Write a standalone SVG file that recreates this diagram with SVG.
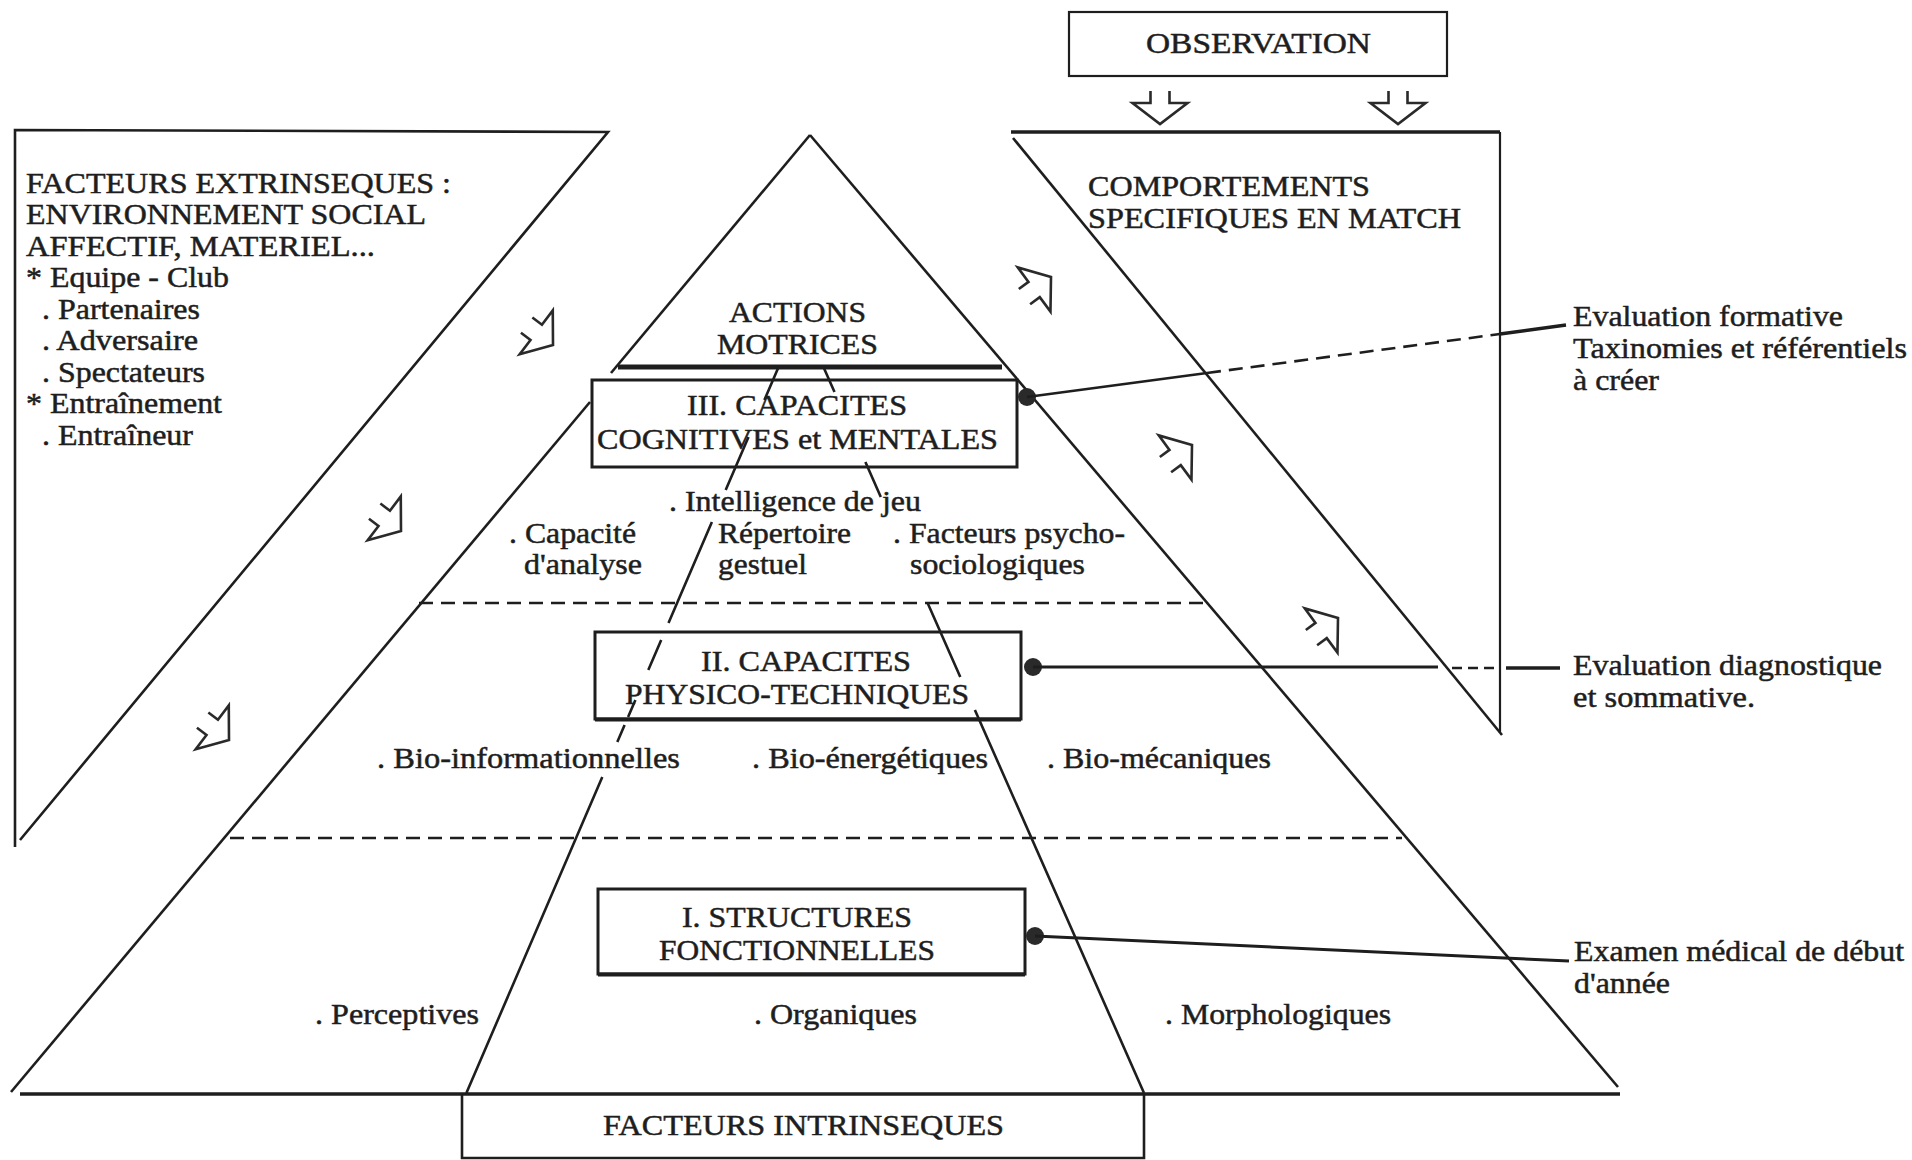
<svg xmlns="http://www.w3.org/2000/svg" width="1912" height="1160" viewBox="0 0 1912 1160">
<style>
  .ln{fill:none;stroke:#1e1e1e;stroke-width:2.6;stroke-linecap:butt;stroke-linejoin:miter}
  .bold{stroke-width:3.4}
  .heavy{stroke-width:5}
  .dash{fill:none;stroke:#1e1e1e;stroke-width:2.6;stroke-dasharray:14 8}
  .box{fill:none;stroke:#1e1e1e;stroke-width:3}
  .dot{fill:#2a2a2a}
  .arr{fill:none;stroke:#2a2a2a;stroke-width:2.6;stroke-linejoin:miter}
  text{font-family:"Liberation Serif","Times New Roman",serif;font-size:30px;fill:#1e1e1e;stroke:#1e1e1e;stroke-width:0.5}
</style>
<defs>
  <!-- hollow double-stem arrow, tip at origin, pointing down -->
  <path id="hollow-arrow" class="arr" d="M-9.5,-33 V-21 H-27.5 L0,0 L27.5,-21 H9.5 V-33"/>
</defs>
<rect width="1912" height="1160" fill="#fff"/>

<!-- extrinsic factors band -->
<g id="extrinsic-factors">
  <path class="ln" d="M15,847 V130 L608,132 L20,840"/>
  <text x="26" y="193" textLength="425" lengthAdjust="spacingAndGlyphs">FACTEURS EXTRINSEQUES :</text>
  <text x="26" y="224" textLength="400" lengthAdjust="spacingAndGlyphs">ENVIRONNEMENT SOCIAL</text>
  <text x="26" y="256" textLength="349" lengthAdjust="spacingAndGlyphs">AFFECTIF, MATERIEL...</text>
  <text x="26" y="287" textLength="203" lengthAdjust="spacingAndGlyphs">* Equipe - Club</text>
  <text x="42" y="319" textLength="158" lengthAdjust="spacingAndGlyphs">. Partenaires</text>
  <text x="42" y="350" textLength="156" lengthAdjust="spacingAndGlyphs">. Adversaire</text>
  <text x="42" y="382" textLength="163" lengthAdjust="spacingAndGlyphs">. Spectateurs</text>
  <text x="26" y="413" textLength="196" lengthAdjust="spacingAndGlyphs">* Entraînement</text>
  <text x="42" y="445" textLength="151" lengthAdjust="spacingAndGlyphs">. Entraîneur</text>
</g>

<!-- pyramid outline, levels and inner guide lines -->
<g id="pyramid">
  <path class="ln" d="M810,135 L611,373"/>
  <path class="ln" d="M590,402 L11,1092"/>
  <path class="ln" d="M810,135 L1618,1087"/>
  <path class="ln bold" d="M20,1094 H1620"/>
  <path class="dash" d="M419,603 H1203"/>
  <path class="dash" d="M230,838 H1402"/>
  <!-- left inner line, broken around labels -->
  <path class="ln" d="M779,366 L764.4,400 M748.5,437 L725.7,490 M711.9,522 L668.5,623 M661.2,640 L648.3,670 M635.4,700 L628.1,717 M624.6,725 L617.3,742 M602.3,777 L466.4,1093"/>
  <!-- right inner line, broken around labels -->
  <path class="ln" d="M823,366 L834.5,392 M865.4,462 L880.8,497 M927.6,603 L960.3,677 M974.9,710 L1144,1093"/>
  <text x="315" y="1024" textLength="164" lengthAdjust="spacingAndGlyphs">. Perceptives</text>
  <text x="754" y="1024" textLength="163" lengthAdjust="spacingAndGlyphs">. Organiques</text>
  <text x="1165" y="1024" textLength="226" lengthAdjust="spacingAndGlyphs">. Morphologiques</text>
  <text x="377" y="768" textLength="303" lengthAdjust="spacingAndGlyphs">. Bio-informationnelles</text>
  <text x="752" y="768" textLength="236" lengthAdjust="spacingAndGlyphs">. Bio-énergétiques</text>
  <text x="1047" y="768" textLength="224" lengthAdjust="spacingAndGlyphs">. Bio-mécaniques</text>
  <text x="669" y="511" textLength="252" lengthAdjust="spacingAndGlyphs">. Intelligence de jeu</text>
  <text x="509" y="543" textLength="127" lengthAdjust="spacingAndGlyphs">. Capacité</text>
  <text x="524" y="574" textLength="118" lengthAdjust="spacingAndGlyphs">d'analyse</text>
  <text x="718" y="543" textLength="133" lengthAdjust="spacingAndGlyphs">Répertoire</text>
  <text x="718" y="574" textLength="89" lengthAdjust="spacingAndGlyphs">gestuel</text>
  <text x="893" y="543" textLength="232" lengthAdjust="spacingAndGlyphs">. Facteurs psycho-</text>
  <text x="910" y="574" textLength="175" lengthAdjust="spacingAndGlyphs">sociologiques</text>
</g>

<!-- apex: motor actions -->
<g id="actions-motrices">
  <path class="ln heavy" d="M618,367 H1002"/>
  <text x="729" y="322" textLength="137" lengthAdjust="spacingAndGlyphs">ACTIONS</text>
  <text x="717" y="354" textLength="161" lengthAdjust="spacingAndGlyphs">MOTRICES</text>
</g>

<g id="capacites-cognitives">
  <rect class="box bold" x="592" y="380" width="425" height="87"/>
  <text x="687" y="415" textLength="220" lengthAdjust="spacingAndGlyphs">III. CAPACITES</text>
  <text x="597" y="449" textLength="401" lengthAdjust="spacingAndGlyphs">COGNITIVES et MENTALES</text>
</g>

<g id="capacites-physico-techniques">
  <rect class="box" x="595" y="632" width="426" height="87"/>
  <path class="ln" d="M595,719.5 H1021" style="stroke-width:4.2"/>
  <text x="701" y="671" textLength="210" lengthAdjust="spacingAndGlyphs">II. CAPACITES</text>
  <text x="625" y="704" textLength="344" lengthAdjust="spacingAndGlyphs">PHYSICO-TECHNIQUES</text>
</g>

<g id="structures-fonctionnelles">
  <rect class="box" x="598" y="889" width="427" height="85"/>
  <path class="ln" d="M598,974.5 H1025" style="stroke-width:4.2"/>
  <text x="682" y="927" textLength="230" lengthAdjust="spacingAndGlyphs">I. STRUCTURES</text>
  <text x="659" y="960" textLength="276" lengthAdjust="spacingAndGlyphs">FONCTIONNELLES</text>
</g>

<g id="facteurs-intrinseques">
  <path class="ln" d="M462,1094 V1158 H1144 V1094"/>
  <text x="603" y="1135" textLength="401" lengthAdjust="spacingAndGlyphs">FACTEURS INTRINSEQUES</text>
</g>

<g id="observation">
  <rect class="ln" x="1069" y="12" width="378" height="64" style="stroke-width:2.2"/>
  <text x="1146" y="53" textLength="225" lengthAdjust="spacingAndGlyphs">OBSERVATION</text>
</g>

<g id="comportements-match">
  <path class="ln bold" d="M1011,132 H1500"/>
  <path class="ln" d="M1500,132 V733" style="stroke-width:2.2"/>
  <path class="ln" d="M1013,138 L1502,735"/>
  <text x="1088" y="196" textLength="282" lengthAdjust="spacingAndGlyphs">COMPORTEMENTS</text>
  <text x="1088" y="228" textLength="373" lengthAdjust="spacingAndGlyphs">SPECIFIQUES EN MATCH</text>
</g>

<g id="evaluation-formative">
  <text x="1573" y="326" textLength="270" lengthAdjust="spacingAndGlyphs">Evaluation formative</text>
  <text x="1573" y="358" textLength="334" lengthAdjust="spacingAndGlyphs">Taxinomies et référentiels</text>
  <text x="1573" y="390" textLength="86" lengthAdjust="spacingAndGlyphs">à créer</text>
</g>

<g id="evaluation-diagnostique">
  <text x="1573" y="675" textLength="309" lengthAdjust="spacingAndGlyphs">Evaluation diagnostique</text>
  <text x="1573" y="707" textLength="182" lengthAdjust="spacingAndGlyphs">et sommative.</text>
</g>

<g id="examen-medical">
  <text x="1574" y="961" textLength="330" lengthAdjust="spacingAndGlyphs">Examen médical de début</text>
  <text x="1574" y="993" textLength="96" lengthAdjust="spacingAndGlyphs">d'année</text>
</g>

<!-- connectors: evaluation leaders and flow arrows -->
<g id="connectors">
  <circle class="dot" cx="1027" cy="397" r="9"/>
  <path class="ln" d="M1027,397 L1207,373"/>
  <path class="dash" d="M1207,373 L1500,334"/>
  <path class="ln bold" d="M1500,334 L1566,325"/>

  <circle class="dot" cx="1033" cy="667" r="9"/>
  <path class="ln" d="M1033,667 H1438" style="stroke-width:3"/>
  <path class="dash" d="M1452,668 H1496" style="stroke-dasharray:10 6"/>
  <path class="ln bold" d="M1506,668 H1560"/>

  <circle class="dot" cx="1035" cy="936" r="9"/>
  <path class="ln" d="M1035,936 L1569,961" style="stroke-width:3"/>

  <use href="#hollow-arrow" transform="translate(1160,124)"/>
  <use href="#hollow-arrow" transform="translate(1398,124)"/>

  <use href="#hollow-arrow" transform="translate(553,345) rotate(-53)"/>
  <use href="#hollow-arrow" transform="translate(401,531) rotate(-53)"/>
  <use href="#hollow-arrow" transform="translate(229,740) rotate(-53)"/>

  <use href="#hollow-arrow" transform="translate(1051,277) rotate(-126.5)"/>
  <use href="#hollow-arrow" transform="translate(1192,445) rotate(-126.5)"/>
  <use href="#hollow-arrow" transform="translate(1338,618) rotate(-126.5)"/>
</g>
</svg>
